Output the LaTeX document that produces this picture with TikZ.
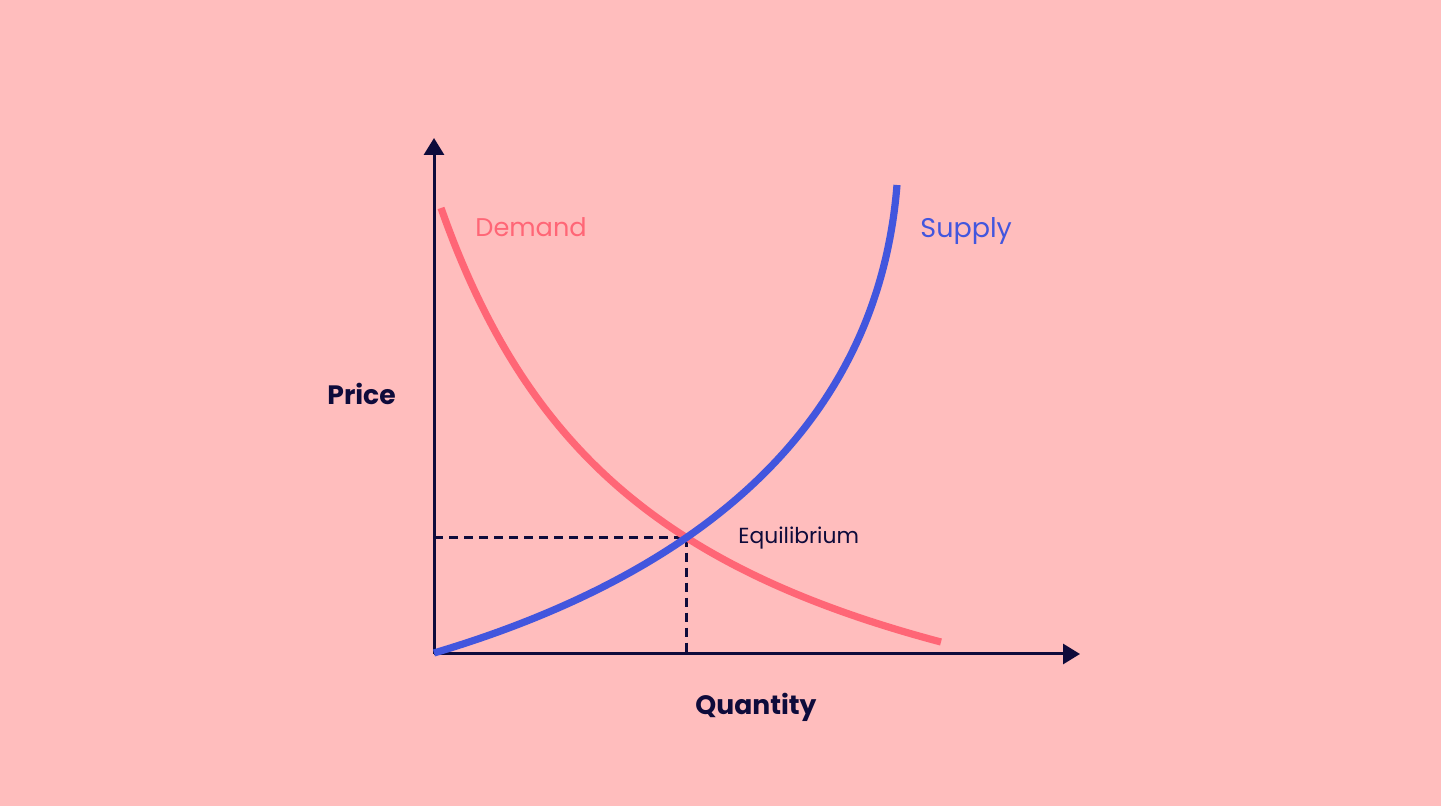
\documentclass[tikz,border=0pt]{standalone}
\usepackage{fontspec}
\setmainfont{Poppins}
\usetikzlibrary{arrows.meta,intersections}
\definecolor{bg}{RGB}{255,189,189}
\definecolor{demandc}{RGB}{255,102,118}
\definecolor{supplyc}{RGB}{66,86,222}
\definecolor{navy}{RGB}{14,11,59}
\tikzset{
  axisline/.style={draw=navy, line width=1.5pt},
  tip/.style={-{Triangle[length=8.5pt,width=10pt]}},
  curvedem/.style={draw=demandc, line width=3.6pt},
  curvesup/.style={draw=supplyc, line width=3.6pt},
  guide/.style={draw=navy, line width=1.6pt, dash pattern=on 4.5pt off 3pt},
  lbl/.style={anchor=base west, inner sep=0pt},
}
\begin{document}
\begin{tikzpicture}[x=0.5pt,y=-0.5pt]
\fill[bg] (0,0) rectangle (1441,806);
\coordinate (O) at (434,654);
\coordinate (ytop) at (434,138);
\coordinate (xend) at (1080,654);
\coordinate (s0) at (434,653);
\coordinate (s1) at (897,185);
% invisible paths for intersection
\path[name path=dem] plot[domain=441:941, samples=120] (\x, {833-1375/((\x-221)/100)});
\path[name path=sup] (s0) .. controls (686,578) and (877,435) .. (s1);
\path[name intersections={of=dem and sup, by=E}];
% guides
\draw[guide] (O |- E) -- (E);
\draw[guide] (E) -- (E |- O);
% axes
\draw[axisline, tip] (O) -- (ytop);
\draw[axisline, tip] (O) -- (xend);
% curves
\draw[curvedem] plot[domain=441:941, samples=120] (\x, {833-1375/((\x-221)/100)});
\draw[curvesup] (s0) .. controls (686,578) and (877,435) .. (s1);
% labels
\node[lbl, text=demandc, font=\fontsize{12.8}{16}\selectfont] (dl) at (475,237) {Demand};
\node[lbl, text=supplyc, font=\fontsize{13.5}{16}\selectfont] (sl) at (920,238) {Supply};
\node[lbl, text=navy, font=\fontsize{10.9}{14}\selectfont] (el) at (738,544) {Equilibrium};
\node[lbl, text=navy, font=\bfseries\fontsize{13.3}{16}\selectfont] (pl) at (327,405) {Price};
\node[lbl, text=navy, font=\bfseries\fontsize{13.3}{16}\selectfont] (ql) at (695,715) {Quantity};
\end{tikzpicture}
\end{document}
